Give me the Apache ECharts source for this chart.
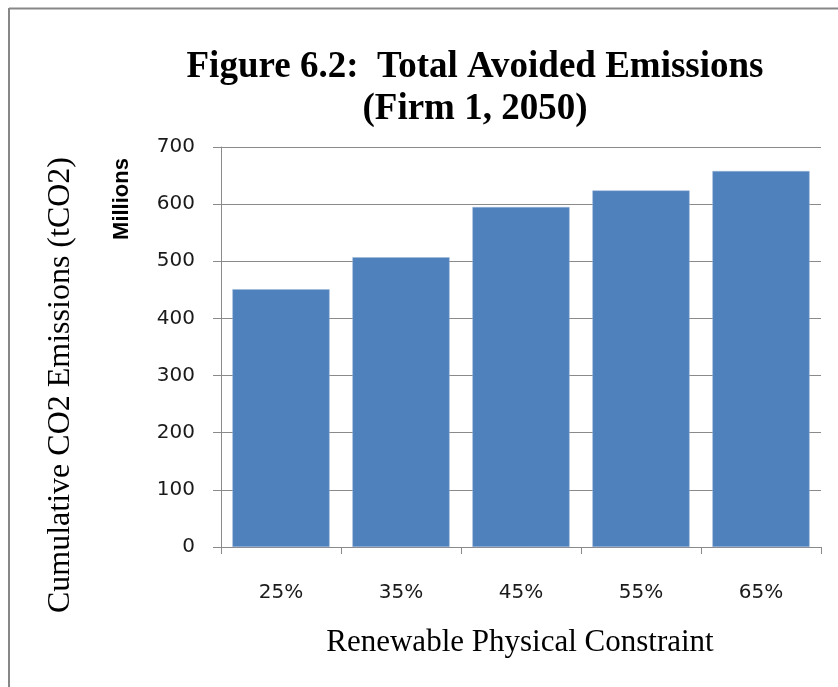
<!DOCTYPE html>
<html>
<head>
<meta charset="utf-8">
<script src="https://cdn.jsdelivr.net/npm/echarts@6/dist/echarts.min.js"></script>
<style>
  html, body { margin: 0; padding: 0; background: #ffffff; }
  #chart { width: 838px; height: 687px; }
</style>
</head>
<body>
<div id="chart"></div>
<script>
const categories = ['25%', '35%', '45%', '55%', '65%'];
const avoidedEmissions = [451, 507, 595, 624, 658];
const yTicks = { min: 0, max: 700, interval: 100 };
const titleLines = ['Figure 6.2:  Total Avoided Emissions', '(Firm 1, 2050)'];
const xAxisTitle = 'Renewable Physical Constraint';
const yAxisTitle = 'Cumulative CO2 Emissions (tCO2)';
const unitLabel = 'Millions';

const chart = echarts.init(document.getElementById('chart'), null, { renderer: 'canvas' });
const gridColor = '#8a8a8a';
const serif = '"Liberation Serif", "Times New Roman", serif';
const sans = '"DejaVu Sans", sans-serif';

chart.setOption({
  animation: false,
  backgroundColor: '#ffffff',
  grid: { left: 221, right: 17, top: 147, bottom: 140, containLabel: false },
  xAxis: {
    type: 'category',
    data: categories,
    axisLine: { show: true, lineStyle: { color: gridColor, width: 1 } },
    axisTick: { show: true, length: 7, alignWithLabel: false, lineStyle: { color: gridColor } },
    axisLabel: { margin: 36, fontFamily: sans, fontSize: 20, color: '#1a1a1a' },
    splitLine: { show: false }
  },
  yAxis: {
    type: 'value',
    min: yTicks.min,
    max: yTicks.max,
    interval: yTicks.interval,
    axisLine: { show: true, lineStyle: { color: gridColor, width: 1 } },
    axisTick: { show: true, length: 8, lineStyle: { color: gridColor } },
    axisLabel: { margin: 26, fontFamily: sans, fontSize: 20, color: '#1a1a1a' },
    splitLine: { show: true, lineStyle: { color: gridColor, width: 1 } }
  },
  series: [{
    type: 'bar',
    data: avoidedEmissions,
    barCategoryGap: '19%',
    itemStyle: { color: '#4F81BD', borderColor: '#9db6d8', borderWidth: 0.5 }
  }],
  graphic: [
    { type: 'line', shape: { x1: 9, y1: 8.5, x2: 838, y2: 8.5 }, style: { stroke: '#878787', lineWidth: 2 }, silent: true },
    { type: 'line', shape: { x1: 9, y1: 8, x2: 9, y2: 687 }, style: { stroke: '#878787', lineWidth: 2 }, silent: true },
    { type: 'text', x: 475, y: 67, style: { text: titleLines[0], font: 'bold 37px ' + serif, fill: '#000', align: 'center', verticalAlign: 'middle' } },
    { type: 'text', x: 475, y: 109, style: { text: titleLines[1], font: 'bold 37px ' + serif, fill: '#000', align: 'center', verticalAlign: 'middle' } },
    { type: 'text', x: 520, y: 643, style: { text: xAxisTitle, font: '31px ' + serif, fill: '#000', align: 'center', verticalAlign: 'middle' } },
    { type: 'text', x: 61, y: 385, rotation: Math.PI / 2, style: { text: yAxisTitle, font: '32px ' + serif, fill: '#000', align: 'center', verticalAlign: 'middle' } },
    { type: 'text', x: 122, y: 199, rotation: Math.PI / 2, style: { text: unitLabel, font: 'bold 22px "Liberation Sans", Arial, sans-serif', fill: '#000', align: 'center', verticalAlign: 'middle' } }
  ]
});
</script>
</body>
</html>
